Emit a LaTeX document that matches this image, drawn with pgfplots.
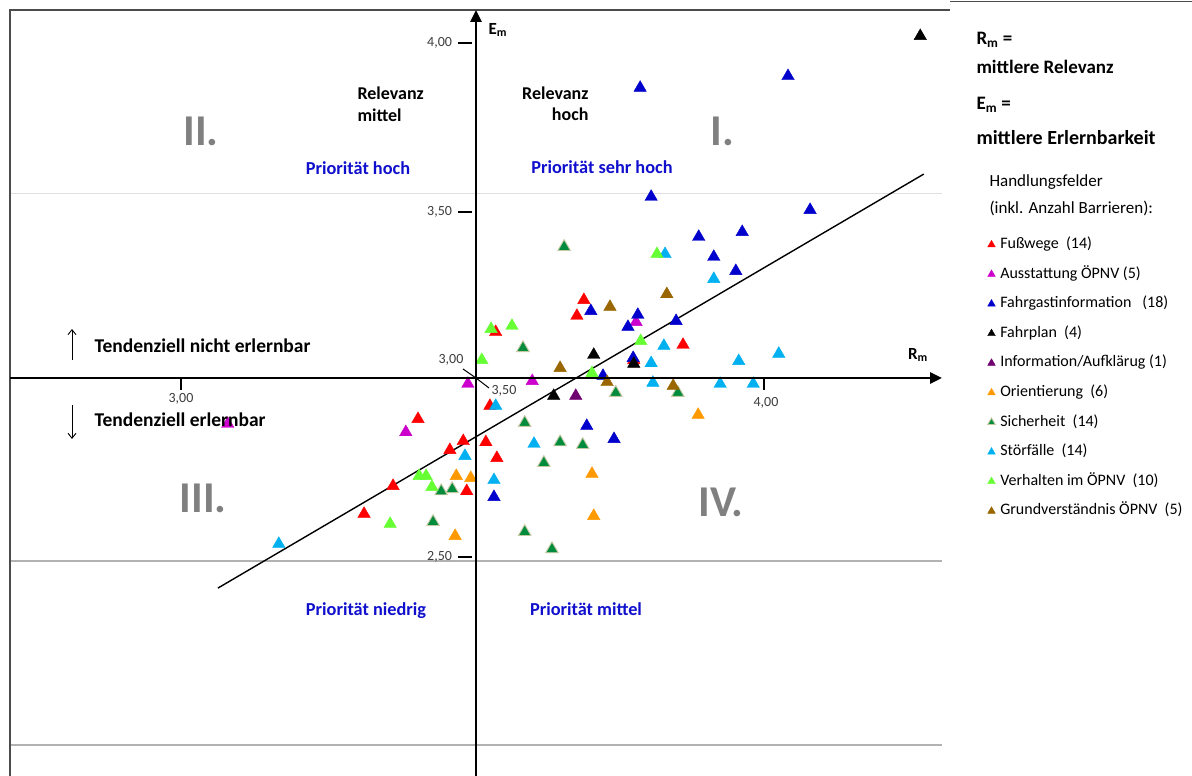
\documentclass[border=0pt]{standalone}
\usepackage{fontspec}
\setmainfont{Carlito}
\usepackage{pgfplots}
\pgfplotsset{compat=1.18}
\usetikzlibrary{arrows.meta}
\definecolor{cRed}{RGB}{255,0,0}
\definecolor{cMag}{RGB}{204,0,204}
\definecolor{cBlue}{RGB}{0,0,204}
\definecolor{cPurple}{RGB}{112,0,112}
\definecolor{cOrange}{RGB}{255,153,0}
\definecolor{cGreen}{RGB}{0,140,60}
\definecolor{cBeige}{RGB}{196,200,160}
\definecolor{cCyan}{RGB}{0,176,240}
\definecolor{cLime}{RGB}{102,255,51}
\definecolor{cBrown}{RGB}{153,102,0}
\definecolor{cPrio}{RGB}{15,15,205}
\definecolor{cRoman}{RGB}{128,128,128}
\definecolor{cTick}{RGB}{60,60,60}
\tikzset{px/.style={x=1pt,y=-1pt,yshift=776pt}}
\pgfplotsset{tri/.style={only marks, mark=triangle*, mark size=7.2pt}}
\begin{document}
\begin{tikzpicture}
\useasboundingbox (0,0) rectangle (1192pt,776pt);
% background
\begin{scope}[px]
  \draw[gray!25, line width=1pt] (10,194) -- (942,194);
  \draw[gray!60, line width=1.2pt] (10,561) -- (942,561);
  \draw[gray!60, line width=1.2pt] (10,745) -- (942,745);
  \draw[black!70, line width=1.6pt] (10,776) -- (10,10) -- (950,10);
  \draw[black!70, line width=1.6pt] (950,1.5) -- (1192,1.5);
\end{scope}
\begin{axis}[
  at={(0,0)}, anchor=south west,
  scale only axis, width=1192pt, height=776pt,
  xmin=2.679310, xmax=4.734483, ymin=1.846377, ymax=4.095652,
  hide axis, clip=false,
  legend image code/.code={\draw[#1, mark size=4.4pt] plot coordinates {(0pt,0pt)};},
  legend cell align=left,
  legend style={at={(0.82844,0.6942)}, anchor=north west, draw=none, fill=none,
    inner sep=0pt, row sep=15.1pt,
    font=\fontsize{16}{19}\selectfont,
    nodes={inner xsep=5pt, inner ysep=0pt, text height=11pt, text depth=3.5pt}},
]
\addplot[tri, color=cRed] coordinates {
 (3.686,3.226) (3.674,3.180) (3.534,3.133) (3.857,3.096) (3.772,3.052)
 (3.524,2.919) (3.400,2.881) (3.478,2.817) (3.517,2.814) (3.455,2.791)
 (3.536,2.768) (3.357,2.687) (3.484,2.672) (3.307,2.606)};
\addlegendentry{Fußwege~~(14)}
\addplot[tri, color=cMag] coordinates {
 (3.776,3.162) (3.486,2.983) (3.597,2.991) (3.072,2.867) (3.379,2.843)};
\addlegendentry{Ausstattung ÖPNV~(5)}
\addplot[tri, color=cBlue] coordinates {
 (3.783,3.841) (4.038,3.875) (3.802,3.525) (4.076,3.487) (3.884,3.409)
 (3.959,3.423) (3.910,3.351) (3.948,3.310) (3.698,3.194) (3.779,3.183)
 (3.762,3.148) (3.845,3.165) (3.771,3.058) (3.719,3.006) (3.691,2.861)
 (3.738,2.823) (3.531,2.655)};
\addlegendentry{Fahrgastinformation~~~(18)}
\addplot[tri, color=black] coordinates {
 (4.266,3.991) (3.703,3.067) (3.772,3.041) (3.634,2.948)};
\addlegendentry{Fahrplan~~(4)}
\addplot[tri, color=cPurple] coordinates {(3.672,2.948)};
\addlegendentry{Information/Aufklärug~(1)}
\addplot[tri, color=cOrange] coordinates {
 (3.883,2.893) (3.466,2.716) (3.491,2.710) (3.700,2.722) (3.464,2.542) (3.703,2.600)};
\addlegendentry{Orientierung~~(6)}
\addplot[tri, mark options={draw=cBeige, fill=cGreen, line width=0.9pt}] coordinates {
 (3.652,3.380) (3.581,3.087) (3.848,2.957) (3.741,2.957) (3.584,2.870)
 (3.645,2.814) (3.684,2.806) (3.617,2.754) (3.440,2.672) (3.459,2.678)
 (3.426,2.583) (3.584,2.554) (3.631,2.504)};
\addlegendentry{Sicherheit~~(14)}
\addplot[tri, color=cCyan] coordinates {
 (3.826,3.359) (3.910,3.287) (3.824,3.093) (4.022,3.070) (3.953,3.049)
 (3.802,3.043) (3.805,2.986) (3.921,2.983) (3.978,2.983) (3.534,2.919)
 (3.481,2.774) (3.600,2.809) (3.531,2.704) (3.160,2.519)};
\addlegendentry{Störfälle~~(14)}
\addplot[tri, color=cLime] coordinates {
 (3.812,3.359) (3.562,3.151) (3.526,3.142) (3.784,3.107) (3.510,3.052)
 (3.700,3.014) (3.402,2.716) (3.414,2.716) (3.424,2.684) (3.352,2.577)};
\addlegendentry{Verhalten im ÖPNV~~(10)}
\addplot[tri, color=cBrown] coordinates {
 (3.829,3.243) (3.731,3.206) (3.645,3.029) (3.726,2.988) (3.840,2.977)};
\addlegendentry{Grundverständnis ÖPNV~~(5)}
\addplot[black, line width=1.4pt, mark=none, forget plot] coordinates {(3.055,2.391) (4.272,3.591)};
\end{axis}
% foreground
\begin{scope}[px]
  \draw[line width=2.8pt, -{Triangle[length=12pt,width=11pt]}] (10,378) -- (942,378);
  \draw[line width=2.8pt, -{Triangle[length=12pt,width=11pt]}] (476,776) -- (476,10);
  % ticks
  \begin{scope}[line width=1.3pt, font=\fontsize{14}{16}\selectfont]
    \draw (458,43) -- (472,43);   \node[anchor=east, cTick] at (456,43) {4,00};
    \draw (458,212) -- (472,212); \node[anchor=east, cTick] at (456,212) {3,50};
    \draw (458,557) -- (472,557); \node[anchor=east, cTick] at (456,557) {2,50};
    \draw (181,378) -- (181,390); \node[cTick] at (181,399) {3,00};
    \draw (764,378) -- (764,390); \node[cTick] at (766,403) {4,00};
    \node[cTick] at (451,360) {3,00};
    \draw[line width=1pt] (463,369) -- (476,378) -- (489,388);
    \node[cTick] at (504,391) {3,50};
  \end{scope}
  % axis names
  \node[anchor=west, font=\bfseries\fontsize{17}{20}\selectfont] at (485,30) {E\textsubscript{m}};
  \node[font=\bfseries\fontsize{17}{20}\selectfont] at (918,355) {R\textsubscript{m}};
  % quadrant texts
  \begin{scope}[font=\bfseries\fontsize{18}{21}\selectfont]
    \node[anchor=west] at (354,93) {Relevanz};
    \node[anchor=west] at (354,115) {mittel};
    \node[anchor=east] at (592,93) {Relevanz};
    \node[anchor=east] at (592,114) {hoch};
  \end{scope}
  \begin{scope}[font=\bfseries\fontsize{44}{52}\selectfont, cRoman]
    \node at (201,131) {II.};
    \node at (722,131) {I.};
    \node at (203,498) {III.};
    \node at (721,502) {IV.};
  \end{scope}
  \begin{scope}[font=\bfseries\fontsize{18.3}{21}\selectfont, cPrio]
    \node at (358,168) {Priorität hoch};
    \node at (602,167) {Priorität sehr hoch};
    \node at (366,611) {Priorität niedrig};
    \node at (586,609) {Priorität mittel};
  \end{scope}
  \begin{scope}[font=\bfseries\fontsize{19.5}{22}\selectfont]
    \draw[line width=0.9pt, -{Straight Barb[length=5pt,width=8pt]}] (72,360) -- (72,329);
    \node[anchor=west] at (91,346) {Tendenziell nicht erlernbar};
    \draw[line width=0.9pt, -{Straight Barb[length=5pt,width=8pt]}] (72,405) -- (72,439);
    \node[anchor=west] at (91,420) {Tendenziell erlernbar};
  \end{scope}
  % legend header
  \begin{scope}[font=\bfseries\fontsize{19}{22}\selectfont]
    \node[anchor=west] at (973,40) {R\textsubscript{m} =};
    \node[anchor=west] at (973,67) {mittlere Relevanz};
    \node[anchor=west] at (973,105) {E\textsubscript{m} =};
    \node[anchor=west, font=\bfseries\fontsize{20}{23}\selectfont] at (973,138) {mittlere Erlernbarkeit};
  \end{scope}
  \begin{scope}[font=\fontsize{17}{20}\selectfont]
    \node[anchor=west] at (986,182) {Handlungsfelder};
    \node[anchor=west] at (986,208) {(inkl. Anzahl Barrieren):};
  \end{scope}
\end{scope}
\end{tikzpicture}
\end{document}
